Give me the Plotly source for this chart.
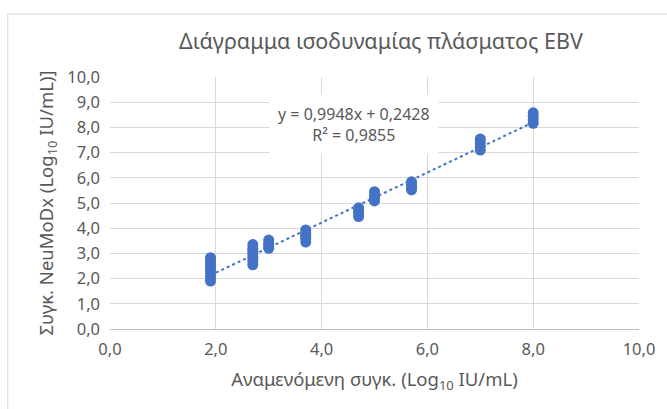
import plotly.graph_objects as go

# Data: expected concentration (x) and measured NeuMoDx concentration (y) clusters
x_levels = [1.9, 2.7, 3.0, 3.7, 4.7, 5.0, 5.7, 7.0, 8.0]
y_1_9 = [1.90, 2.05, 2.20, 2.35, 2.45, 2.55, 2.65, 2.75, 2.83]
y_2_7 = [2.55, 2.70, 2.85, 3.00, 3.10, 3.20, 3.35]
y_3_0 = [3.20, 3.30, 3.40, 3.53]
y_3_7 = [3.45, 3.60, 3.70, 3.80, 3.93]
y_4_7 = [4.46, 4.60, 4.70, 4.81]
y_5_0 = [5.08, 5.20, 5.30, 5.45]
y_5_7 = [5.52, 5.62, 5.72, 5.84]
y_7_0 = [7.10, 7.25, 7.40, 7.54]
y_8_0 = [8.16, 8.30, 8.45, 8.58]
y_groups = [y_1_9, y_2_7, y_3_0, y_3_7, y_4_7, y_5_0, y_5_7, y_7_0, y_8_0]

slope = 0.9948
intercept = 0.2428
r2 = 0.9855
trend_x = [1.9, 8.0]

axis_ticks = [0, 2, 4, 6, 8, 10]
y_ticks = [0, 1, 2, 3, 4, 5, 6, 7, 8, 9, 10]

xs, ys = [], []
for xv, grp in zip(x_levels, y_groups):
    for yv in grp:
        xs.append(xv)
        ys.append(yv)

blue = "#4472C4"
gray = "#595959"
font_family = "Noto Sans, sans-serif"

fig = go.Figure()
fig.add_trace(go.Scatter(
    x=[trend_x[0], trend_x[1]],
    y=[slope * trend_x[0] + intercept, slope * trend_x[1] + intercept],
    mode="lines", line=dict(color=blue, width=2, dash="dot"),
    hoverinfo="skip", showlegend=False))
fig.add_trace(go.Scatter(
    x=xs, y=ys, mode="markers",
    marker=dict(color=blue, size=11, line=dict(width=0)),
    showlegend=False))

fig.add_annotation(
    x=4.62, y=8.13, xref="x", yref="y",
    text="y = 0,9948x + 0,2428<br>R² = " + f"{r2:.4f}".replace(".", ","),
    showarrow=False, bgcolor="white", borderpad=8,
    font=dict(family=font_family, size=16, color=gray), align="center")

W, H = 667, 409
L, R, T, B = 110, 24, 77, 80
pw, ph = W - L - R, H - T - B
fig.add_shape(type="rect", xref="paper", yref="paper",
              x0=(7 - L) / pw, x1=(W + 5 - L) / pw,
              y0=(H - B - (H + 5)) / ph, y1=(H - B - 14) / ph,
              line=dict(color="#d9d9d9", width=1), fillcolor="rgba(0,0,0,0)", layer="below")

fig.update_layout(
    width=W, height=H,
    margin=dict(l=L, r=R, t=T, b=B),
    paper_bgcolor="white", plot_bgcolor="white",
    separators=", ",
    title=dict(text="Διάγραμμα ισοδυναμίας πλάσματος EBV",
               x=381 / W, xanchor="center", y=1 - 41 / H, yanchor="middle",
               font=dict(family=font_family, size=21.5, color=gray)),
    font=dict(family=font_family, color=gray),
    xaxis=dict(range=[0, 10], tickvals=axis_ticks, tickformat=".1f",
               showgrid=True, gridcolor="#d9d9d9", gridwidth=1,
               showline=True, linecolor="#bfbfbf", linewidth=1,
               zeroline=False, ticks="", ticklabelstandoff=5,
               tickfont=dict(size=16.5, color=gray),
               title=dict(text="Αναμενόμενη συγκ. (Log<sub>10</sub> IU/mL)",
                          font=dict(size=18.5, color=gray), standoff=14)),
    yaxis=dict(range=[0, 10], tickvals=y_ticks, tickformat=".1f",
               showgrid=True, gridcolor="#d9d9d9", gridwidth=1,
               showline=False, zeroline=False, ticks="",
               ticklabelstandoff=9,
               tickfont=dict(size=16.5, color=gray),
               title=dict(text="Συγκ. NeuMoDx (Log<sub>10</sub> IU/mL)]",
                          font=dict(size=18.5, color=gray), standoff=8)),
)

fig.write_html("out.html", config={"displayModeBar": False},
               post_script="document.body.style.margin='0';document.body.style.overflow='hidden';")
